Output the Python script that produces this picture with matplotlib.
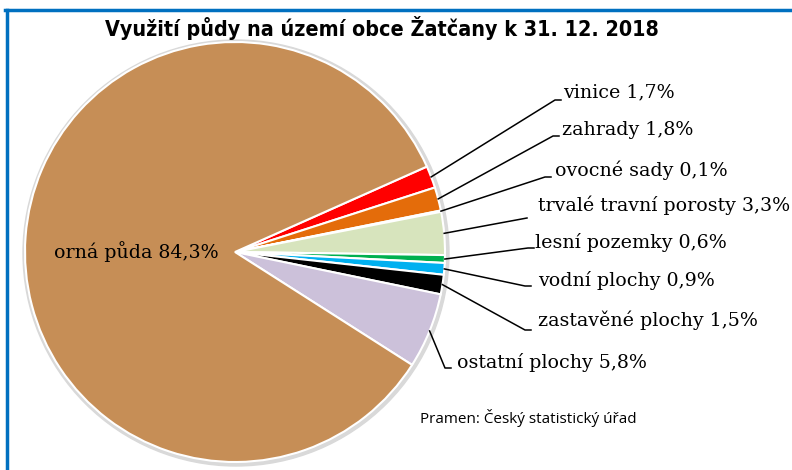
import matplotlib.pyplot as plt
import numpy as np
from matplotlib.patches import Circle

# data
kategorie = ['vinice', 'zahrady', 'ovocné sady', 'trvalé travní porosty',
             'lesní pozemky', 'vodní plochy', 'zastavěné plochy',
             'ostatní plochy', 'orná půda']
podil = [1.7, 1.8, 0.1, 3.3, 0.6, 0.9, 1.5, 5.8, 84.3]
barvy = ['#FF0000', '#E46C0A', '#FFC000', '#D7E4BD', '#00B050',
         '#00B0F0', '#000000', '#CCC1DA', '#C68E56']

W, H = 792, 470
fig = plt.figure(figsize=(W / 100, H / 100), dpi=100)
ax = fig.add_axes([0, 0, 1, 1])

cx, cy, r = 235, H - 252, 210
start = 24

# light shadow behind the pie
ax.add_patch(Circle((cx + 1, cy - 1), r + 3, color='#d9d9d9', zorder=0))

wedges, _ = ax.pie(podil, colors=barvy, startangle=start, counterclock=False,
                   center=(cx, cy), radius=r,
                   wedgeprops=dict(edgecolor='white', linewidth=1.5))

ax.set_xlim(0, W)
ax.set_ylim(0, H)
ax.set_aspect('equal')
ax.axis('off')

serif = ['DejaVu Serif']

# label positions (text left x, text centre y) in pixels from the top
poz = [(563, 92), (562, 130), (555, 170), (538, 205), (535, 242),
       (538, 280), (538, 320), (457, 362)]
# elbow of the leader line
lom = [(555, 100), (553, 136), (545, 177), (527, 218), (528, 248),
       (525, 286), (525, 330), (445, 368)]

for i, w in enumerate(wedges[:-1]):
    a = np.deg2rad((w.theta1 + w.theta2) / 2)
    x0 = cx + r * np.cos(a)
    y0 = cy + r * np.sin(a)
    ex, ey = lom[i]
    ey = H - ey
    xs = [x0, ex]
    ys = [y0, ey]
    if i != 3:
        xs.append(ex + 6)
        ys.append(ey)
    ax.plot(xs, ys, color='black', lw=1.1, zorder=3)
    tx, ty = poz[i]
    ax.text(tx, H - ty, f'{kategorie[i]} {podil[i]:.1f}%'.replace('.', ','),
            family=serif, fontsize=13.7, va='center', ha='left')

ax.text(54, H - 252, f'{kategorie[-1]} {podil[-1]:.1f}%'.replace('.', ','),
        family=serif, fontsize=13.7, va='center', ha='left')

ax.text(382, H - 28, 'Využití půdy na území obce Žatčany k 31. 12. 2018',
        family=['DejaVu Sans'], fontstretch='condensed', fontweight='bold',
        fontsize=15.4, ha='center', va='center')

ax.text(420, H - 418, 'Pramen: Český statistický úřad',
        family=['Open Sans', 'DejaVu Sans'], fontsize=11, ha='left', va='center')

# blue frame edges
ax.plot([5, W], [H - 10, H - 10], color='#0070C0', lw=2.5, clip_on=False)
ax.plot([7, 7], [H - 10, 0], color='#0070C0', lw=2.5, clip_on=False)

fig.savefig('out.png', dpi=100)
